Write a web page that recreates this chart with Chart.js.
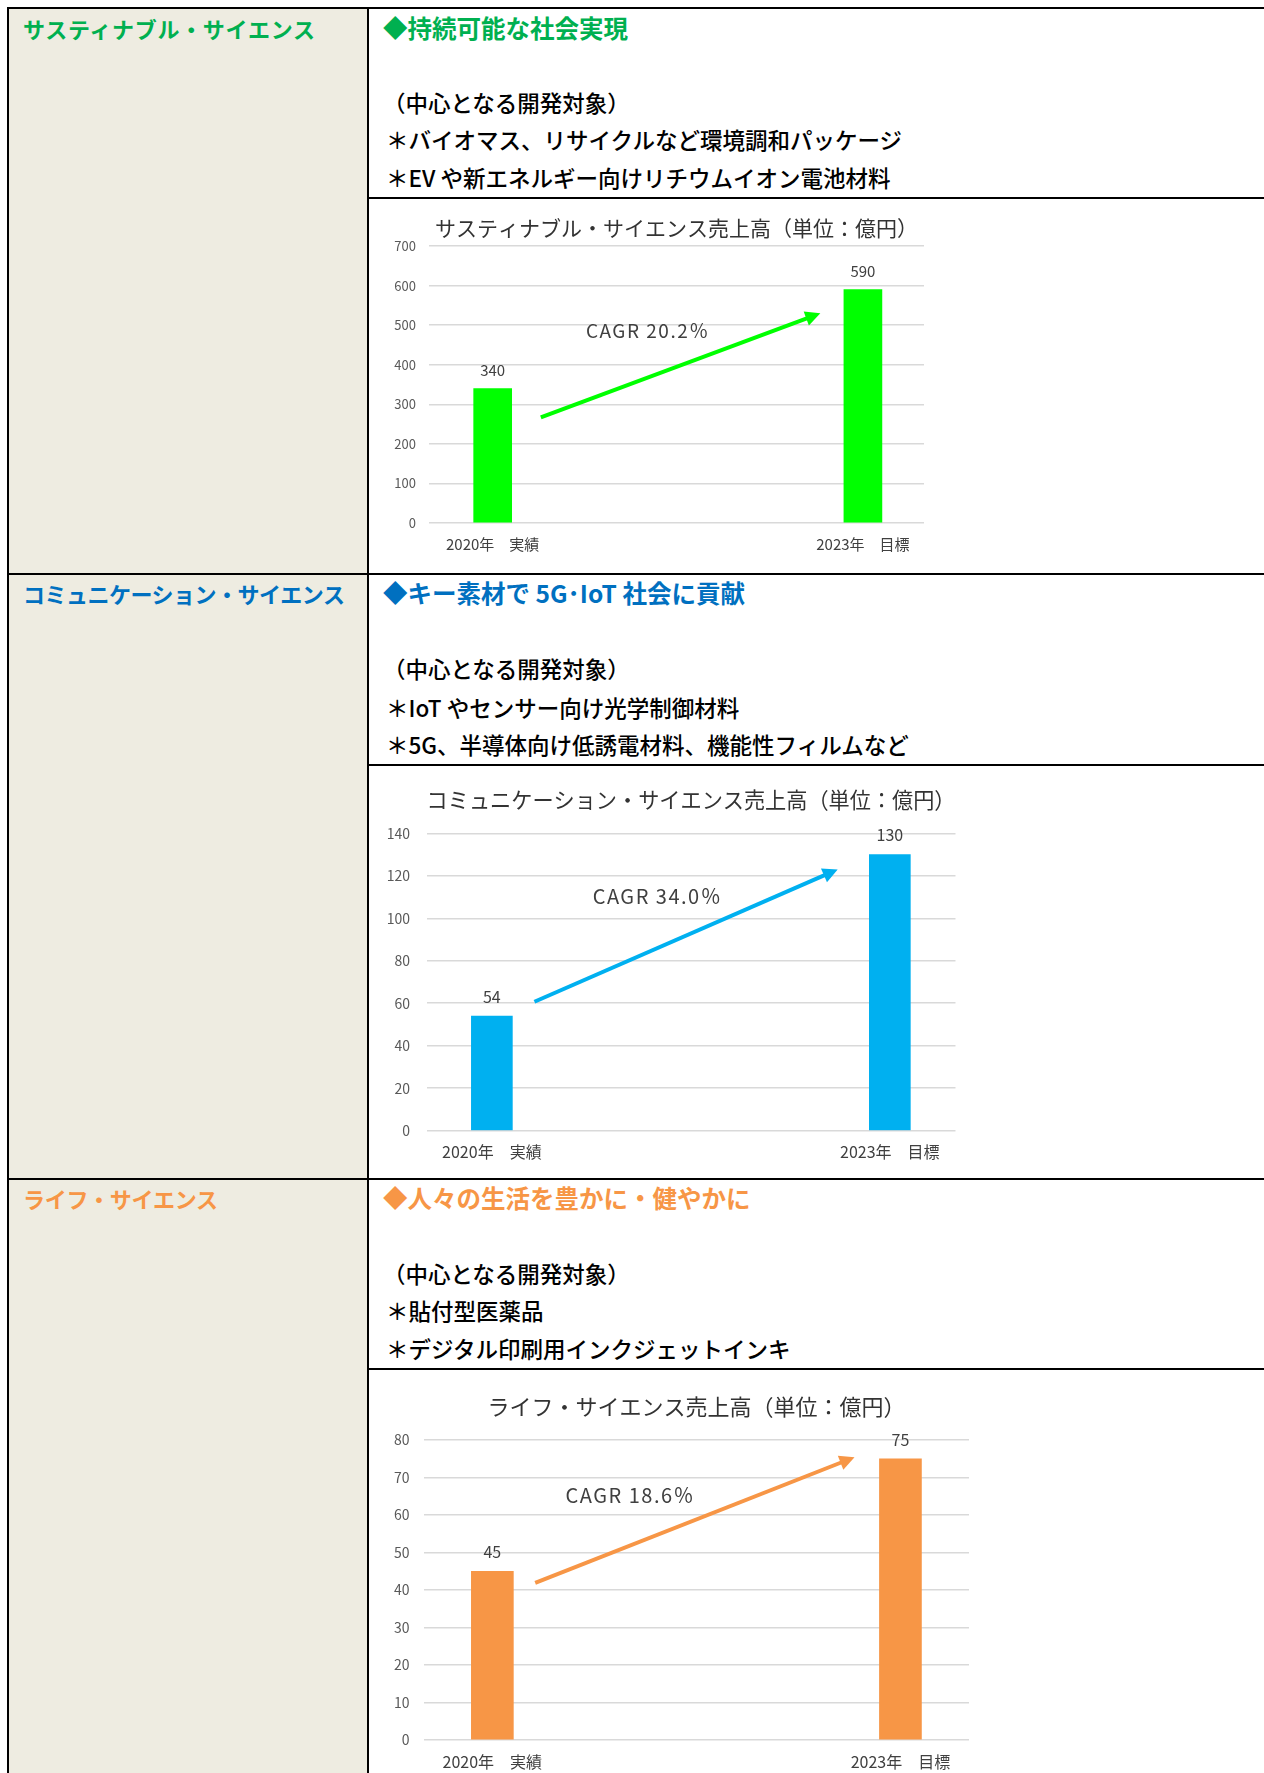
<!DOCTYPE html>
<html lang="ja">
<head>
<meta charset="utf-8">
<script src="https://cdn.jsdelivr.net/npm/chart.js@4.4.1/dist/chart.umd.min.js"></script>
<style>
html,body{margin:0;padding:0;background:#fff;}
body{width:1264px;height:1773px;position:relative;overflow:hidden;font-family:"Noto Sans CJK JP","Noto Sans",sans-serif;}
.bg{position:absolute;background:#EEECE1;}
.hl{position:absolute;background:#000;height:2px;}
.vl{position:absolute;background:#000;width:2px;}
.t{position:absolute;white-space:nowrap;line-height:30px;height:30px;font-size:22.5px;color:#000;font-weight:500;}
.h{font-weight:700;font-size:22px;letter-spacing:-0.3px;}
.hd{font-weight:700;font-size:24.5px;}
.g{color:#00B050;} .b{color:#0070C0;} .o{color:#F79646;}
canvas{position:absolute;}
</style>
</head>
<body>
<!-- table background and borders -->
<div class="bg" style="left:9px;top:9px;width:358px;height:1764px;"></div>
<div class="hl" style="left:7px;top:7px;width:1257px;"></div>
<div class="vl" style="left:7px;top:7px;height:1766px;"></div>
<div class="vl" style="left:367px;top:7px;height:1766px;"></div>
<div class="hl" style="left:7px;top:573px;width:1257px;"></div>
<div class="hl" style="left:7px;top:1178px;width:1257px;"></div>
<div class="hl" style="left:367px;top:197px;width:897px;"></div>
<div class="hl" style="left:367px;top:764px;width:897px;"></div>
<div class="hl" style="left:367px;top:1368px;width:897px;"></div>

<!-- row 1 -->
<div class="t h g" style="left:23px;top:13px;letter-spacing:0.7px;">サスティナブル・サイエンス</div>
<div class="t hd g" style="left:383px;top:13px;">◆持続可能な社会実現</div>
<div class="t" style="left:383px;top:87px;">（中心となる開発対象）</div>
<div class="t" style="left:386px;top:124px;">＊バイオマス、リサイクルなど環境調和パッケージ</div>
<div class="t" style="left:386px;top:162px;">＊EV や新エネルギー向けリチウムイオン電池材料</div>

<!-- row 2 -->
<div class="t h b" style="left:23px;top:578px;letter-spacing:-0.5px;">コミュニケーション・サイエンス</div>
<div class="t hd b" style="left:383px;top:578px;">◆キー素材で 5G･IoT 社会に貢献</div>
<div class="t" style="left:383px;top:653px;">（中心となる開発対象）</div>
<div class="t" style="left:386px;top:692px;">＊IoT やセンサー向け光学制御材料</div>
<div class="t" style="left:386px;top:729px;">＊5G、半導体向け低誘電材料、機能性フィルムなど</div>

<!-- row 3 -->
<div class="t h o" style="left:23px;top:1183px;">ライフ・サイエンス</div>
<div class="t hd o" style="left:383px;top:1183px;">◆人々の生活を豊かに・健やかに</div>
<div class="t" style="left:383px;top:1258px;">（中心となる開発対象）</div>
<div class="t" style="left:386px;top:1295px;">＊貼付型医薬品</div>
<div class="t" style="left:386px;top:1333px;">＊デジタル印刷用インクジェットインキ</div>

<canvas id="c1" width="894" height="374" style="left:370px;top:199px;"></canvas>
<canvas id="c2" width="894" height="412" style="left:370px;top:766px;"></canvas>
<canvas id="c3" width="894" height="403" style="left:370px;top:1370px;"></canvas>

<script>
// ---- data ----
const categories = ['2020年　実績', '2023年　目標'];

const sustainTitle = 'サスティナブル・サイエンス売上高（単位：億円）';
const sustainValues = [340, 590];
const sustainTicks = [0, 100, 200, 300, 400, 500, 600, 700];
const sustainCagr = 'CAGR 20.2％';

const commTitle = 'コミュニケーション・サイエンス売上高（単位：億円）';
const commValues = [54, 130];
const commTicks = [0, 20, 40, 60, 80, 100, 120, 140];
const commCagr = 'CAGR 34.0％';

const lifeTitle = 'ライフ・サイエンス売上高（単位：億円）';
const lifeValues = [45, 75];
const lifeTicks = [0, 10, 20, 30, 40, 50, 60, 70, 80];
const lifeCagr = 'CAGR 18.6％';

const FONT = '"Noto Sans CJK JP", "Noto Sans", sans-serif';

function makeChart(id, title, values, ticks, cagr, look) {
  const overlay = {
    id: 'overlay_' + id,
    afterDatasetsDraw(chart) {
      const ctx = chart.ctx;
      const xs = chart.scales.x, ys = chart.scales.y;
      ctx.save();
      // value labels
      const meta = chart.getDatasetMeta(0);
      ctx.fillStyle = '#404040';
      ctx.font = look.valueFont + 'px ' + FONT;
      ctx.textAlign = 'center';
      ctx.textBaseline = 'middle';
      meta.data.forEach((bar, i) => {
        ctx.fillText(String(values[i]), bar.x, bar.y - look.valueOffset);
      });
      // arrow (defined in data units, converted by scales)
      const x1 = xs.getPixelForValue(look.arrowFrom[0]);
      const y1 = ys.getPixelForValue(look.arrowFrom[1]);
      const x2 = xs.getPixelForValue(look.arrowTo[0]);
      const y2 = ys.getPixelForValue(look.arrowTo[1]);
      const ang = Math.atan2(y2 - y1, x2 - x1);
      const cs = Math.cos(ang), sn = Math.sin(ang);
      const hl = 15, hw = 7.5;
      const bx = x2 - hl * cs, by = y2 - hl * sn;
      ctx.strokeStyle = look.color;
      ctx.fillStyle = look.color;
      ctx.lineWidth = 4;
      ctx.lineCap = 'butt';
      ctx.beginPath();
      ctx.moveTo(x1, y1);
      ctx.lineTo(bx + 2 * cs, by + 2 * sn);
      ctx.stroke();
      ctx.beginPath();
      ctx.moveTo(x2, y2);
      ctx.lineTo(bx + hw * sn, by - hw * cs);
      ctx.lineTo(bx - hw * sn, by + hw * cs);
      ctx.closePath();
      ctx.fill();
      // CAGR text
      ctx.fillStyle = '#404040';
      ctx.font = look.cagrFont + 'px ' + FONT;
      ctx.textAlign = 'center';
      ctx.textBaseline = 'middle';
      if ('letterSpacing' in ctx) ctx.letterSpacing = '1.5px';
      ctx.fillText(cagr, xs.getPixelForValue(look.cagrAt[0]), ys.getPixelForValue(look.cagrAt[1]));
      ctx.restore();
    }
  };
  return new Chart(document.getElementById(id), {
    type: 'bar',
    data: {
      datasets: [{
        data: values.map((v, i) => ({ x: i, y: v })),
        backgroundColor: look.color,
        barThickness: look.barW,
        borderWidth: 0
      }]
    },
    options: {
      responsive: false,
      animation: false,
      devicePixelRatio: 1,
      layout: { padding: look.pad },
      plugins: {
        legend: { display: false },
        tooltip: { enabled: false },
        title: {
          display: true, text: title, fullSize: false, color: '#333333',
          font: { family: FONT, size: look.titleSize, weight: 'normal', lineHeight: 1.2 },
          padding: look.titlePad
        }
      },
      scales: {
        x: {
          type: 'linear', min: look.xMin, max: look.xMax, offset: false, bounds: 'data',
          grid: { display: false, drawTicks: false }, border: { display: false },
          afterBuildTicks: (s) => { s.ticks = categories.map((_, i) => ({ value: i })); },
          afterFit: (s) => { s.height = look.xH; },
          ticks: {
            padding: look.xPad, color: '#404040', maxRotation: 0, autoSkip: false,
            font: { family: FONT, size: look.xFont, lineHeight: 1.2 },
            callback: (v) => (categories[v] !== undefined ? categories[v] : '')
          }
        },
        y: {
          min: ticks[0], max: ticks[ticks.length - 1],
          afterBuildTicks: (s) => { s.ticks = ticks.map((v) => ({ value: v })); },
          afterFit: (s) => { s.width = look.yW; },
          grid: { color: '#d9d9d9', lineWidth: 1.5, drawTicks: false },
          border: { display: false },
          ticks: { padding: look.yPad, color: '#595959', font: { family: FONT, size: look.yFont } }
        }
      }
    },
    plugins: [overlay]
  });
}

makeChart('c1', sustainTitle, sustainValues, sustainTicks, sustainCagr, {
  color: '#00FF00', barW: 38,
  pad: { left: 14, right: 340, top: 8, bottom: 10 },
  yW: 45, yPad: 13, yFont: 13,
  titleSize: 21, titlePad: { top: 8.4, bottom: 5.4 },
  xH: 40, xPad: 12, xFont: 15,
  xMin: -0.172, xMax: 1.165,
  valueFont: 15, valueOffset: 18, cagrFont: 19,
  arrowFrom: [0.13, 267], arrowTo: [0.885, 530], cagrAt: [0.419, 485]
});

makeChart('c2', commTitle, commValues, commTicks, commCagr, {
  color: '#00B0F0', barW: 41,
  pad: { left: 12.6, right: 308.5, top: 8, bottom: 7.3 },
  yW: 44, yPad: 16.6, yFont: 14,
  titleSize: 22, titlePad: { top: 12.8, bottom: 20.1 },
  xH: 40, xPad: 11.4, xFont: 16,
  xMin: -0.164, xMax: 1.165,
  valueFont: 16, valueOffset: 19.5, cagrFont: 20,
  arrowFrom: [0.107, 60.7], arrowTo: [0.869, 123], cagrAt: [0.416, 110.5]
});

makeChart('c3', lifeTitle, lifeValues, lifeTicks, lifeCagr, {
  color: '#F79646', barW: 42,
  pad: { left: 12.2, right: 295, top: 8, bottom: 0 },
  yW: 42, yPad: 14.7, yFont: 14,
  titleSize: 22, titlePad: { top: 15.5, bottom: 20.1 },
  xH: 33, xPad: 12.1, xFont: 16,
  xMin: -0.167, xMax: 1.168,
  valueFont: 16, valueOffset: 19, cagrFont: 20,
  arrowFrom: [0.105, 41.9], arrowTo: [0.8875, 75.4], cagrAt: [0.338, 65.1]
});
</script>
</body>
</html>
